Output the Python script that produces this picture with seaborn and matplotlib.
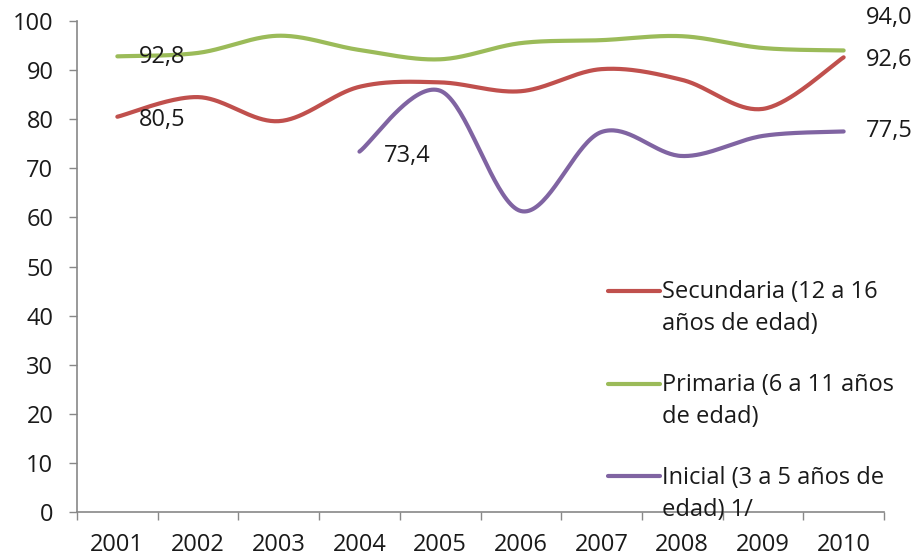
import numpy as np
import pandas as pd
import matplotlib
matplotlib.use("Agg")
import matplotlib.pyplot as plt
import seaborn as sns

years = ["2001", "2002", "2003", "2004", "2005", "2006", "2007", "2008", "2009", "2010"]
secundaria = [80.5, 84.5, 79.6, 86.6, 87.5, 85.7, 90.2, 88.0, 82.1, 92.6]
primaria = [92.8, 93.5, 97.0, 94.1, 92.2, 95.5, 96.1, 96.9, 94.5, 94.0]
inicial = [None, None, None, 73.4, 85.8, 61.3, 77.4, 72.5, 76.6, 77.5]

labels = ["Secundaria (12 a 16\naños de edad)",
          "Primaria (6 a 11 años\nde edad)",
          "Inicial (3 a 5 años de\nedad) 1/"]
colors = ["#C0504D", "#9BBB59", "#8064A2"]

sns.set_theme(style="white")
plt.rcParams['font.family'] = ['Open Sans', 'DejaVu Sans']

TXT = "#1a1a1a"
FS = 17


def smooth(xs, ys, n=40):
    xs = np.asarray(xs, float)
    ys = np.asarray(ys, float)
    px, py = [], []
    for i in range(len(xs) - 1):
        x0, y0 = (xs[i - 1], ys[i - 1]) if i > 0 else (xs[i], ys[i])
        x1, y1 = xs[i], ys[i]
        x2, y2 = xs[i + 1], ys[i + 1]
        x3, y3 = (xs[i + 2], ys[i + 2]) if i + 2 < len(xs) else (xs[i + 1], ys[i + 1])
        c1x, c1y = x1 + (x2 - x0) / 6, y1 + (y2 - y0) / 6
        c2x, c2y = x2 - (x3 - x1) / 6, y2 - (y3 - y1) / 6
        t = np.linspace(0, 1, n, endpoint=(i == len(xs) - 2))
        b0 = (1 - t) ** 3
        b1 = 3 * (1 - t) ** 2 * t
        b2 = 3 * (1 - t) * t ** 2
        b3 = t ** 3
        px.append(b0 * x1 + b1 * c1x + b2 * c2x + b3 * x2)
        py.append(b0 * y1 + b1 * c1y + b2 * c2y + b3 * y2)
    return np.concatenate(px), np.concatenate(py)


fig = plt.figure(figsize=(9.17, 5.6), dpi=100)
ax = fig.add_axes([77 / 917, 48 / 560, 807 / 917, 491 / 560])

for series, lab, col in zip([secundaria, primaria, inicial], labels, colors):
    idx = [i for i, v in enumerate(series) if v is not None]
    vals = [series[i] for i in idx]
    sx, sy = smooth(idx, vals)
    df = pd.DataFrame({"x": sx, "y": sy})
    sns.lineplot(data=df, x="x", y="y", ax=ax, color=col, linewidth=3,
                 sort=False, estimator=None, label=lab, solid_capstyle="round")

ax.set_xlim(-0.5, 9.5)
ax.set_ylim(0, 100)
ax.set_yticks(range(0, 101, 10))
ax.set_xticks(range(10))
ax.set_xticklabels(years)
ax.set_xticks(np.arange(-0.5, 9.6, 1), minor=True)
ax.set_xlabel("")
ax.set_ylabel("")

for s in ["top", "right"]:
    ax.spines[s].set_visible(False)
for s in ["left", "bottom"]:
    ax.spines[s].set_color("#888888")
    ax.spines[s].set_linewidth(1.2)

ax.tick_params(axis="y", which="major", left=True, length=6, width=1, color="#888888",
               labelsize=FS, labelcolor=TXT, pad=11)
ax.tick_params(axis="x", which="major", bottom=True, length=0, labelsize=FS,
               labelcolor=TXT, pad=15)
ax.tick_params(axis="x", which="minor", bottom=True, length=6, width=1, color="#888888")

# data labels
def lab(txt, x, y, dx, dy):
    ax.annotate(txt, (x, y), xytext=(dx, dy), textcoords="offset pixels",
                ha="left", va="center", fontsize=FS, color=TXT)

lab("92,8", 0, primaria[0], 22, -1)
lab("80,5", 0, secundaria[0], 22, -3)
lab("73,4", 3, inicial[3], 24, -4)
lab("94,0", 9, primaria[9], 22, 32)
lab("92,6", 9, secundaria[9], 22, -3)
lab("77,5", 9, inicial[9], 22, 0)

leg = ax.legend(loc="upper left", bbox_to_anchor=(0.658, 0.472), frameon=False,
                fontsize=FS, handlelength=2.2, handletextpad=0.1, labelspacing=1.55,
                borderaxespad=0, borderpad=0)
for t in leg.get_texts():
    t.set_color(TXT)
    t.set_linespacing(1.45)
for h in leg.legend_handles:
    h.set_linewidth(3)
    h.set_ydata(np.asarray(h.get_ydata(), float) + 13)

fig.savefig("out.png", dpi=100)
